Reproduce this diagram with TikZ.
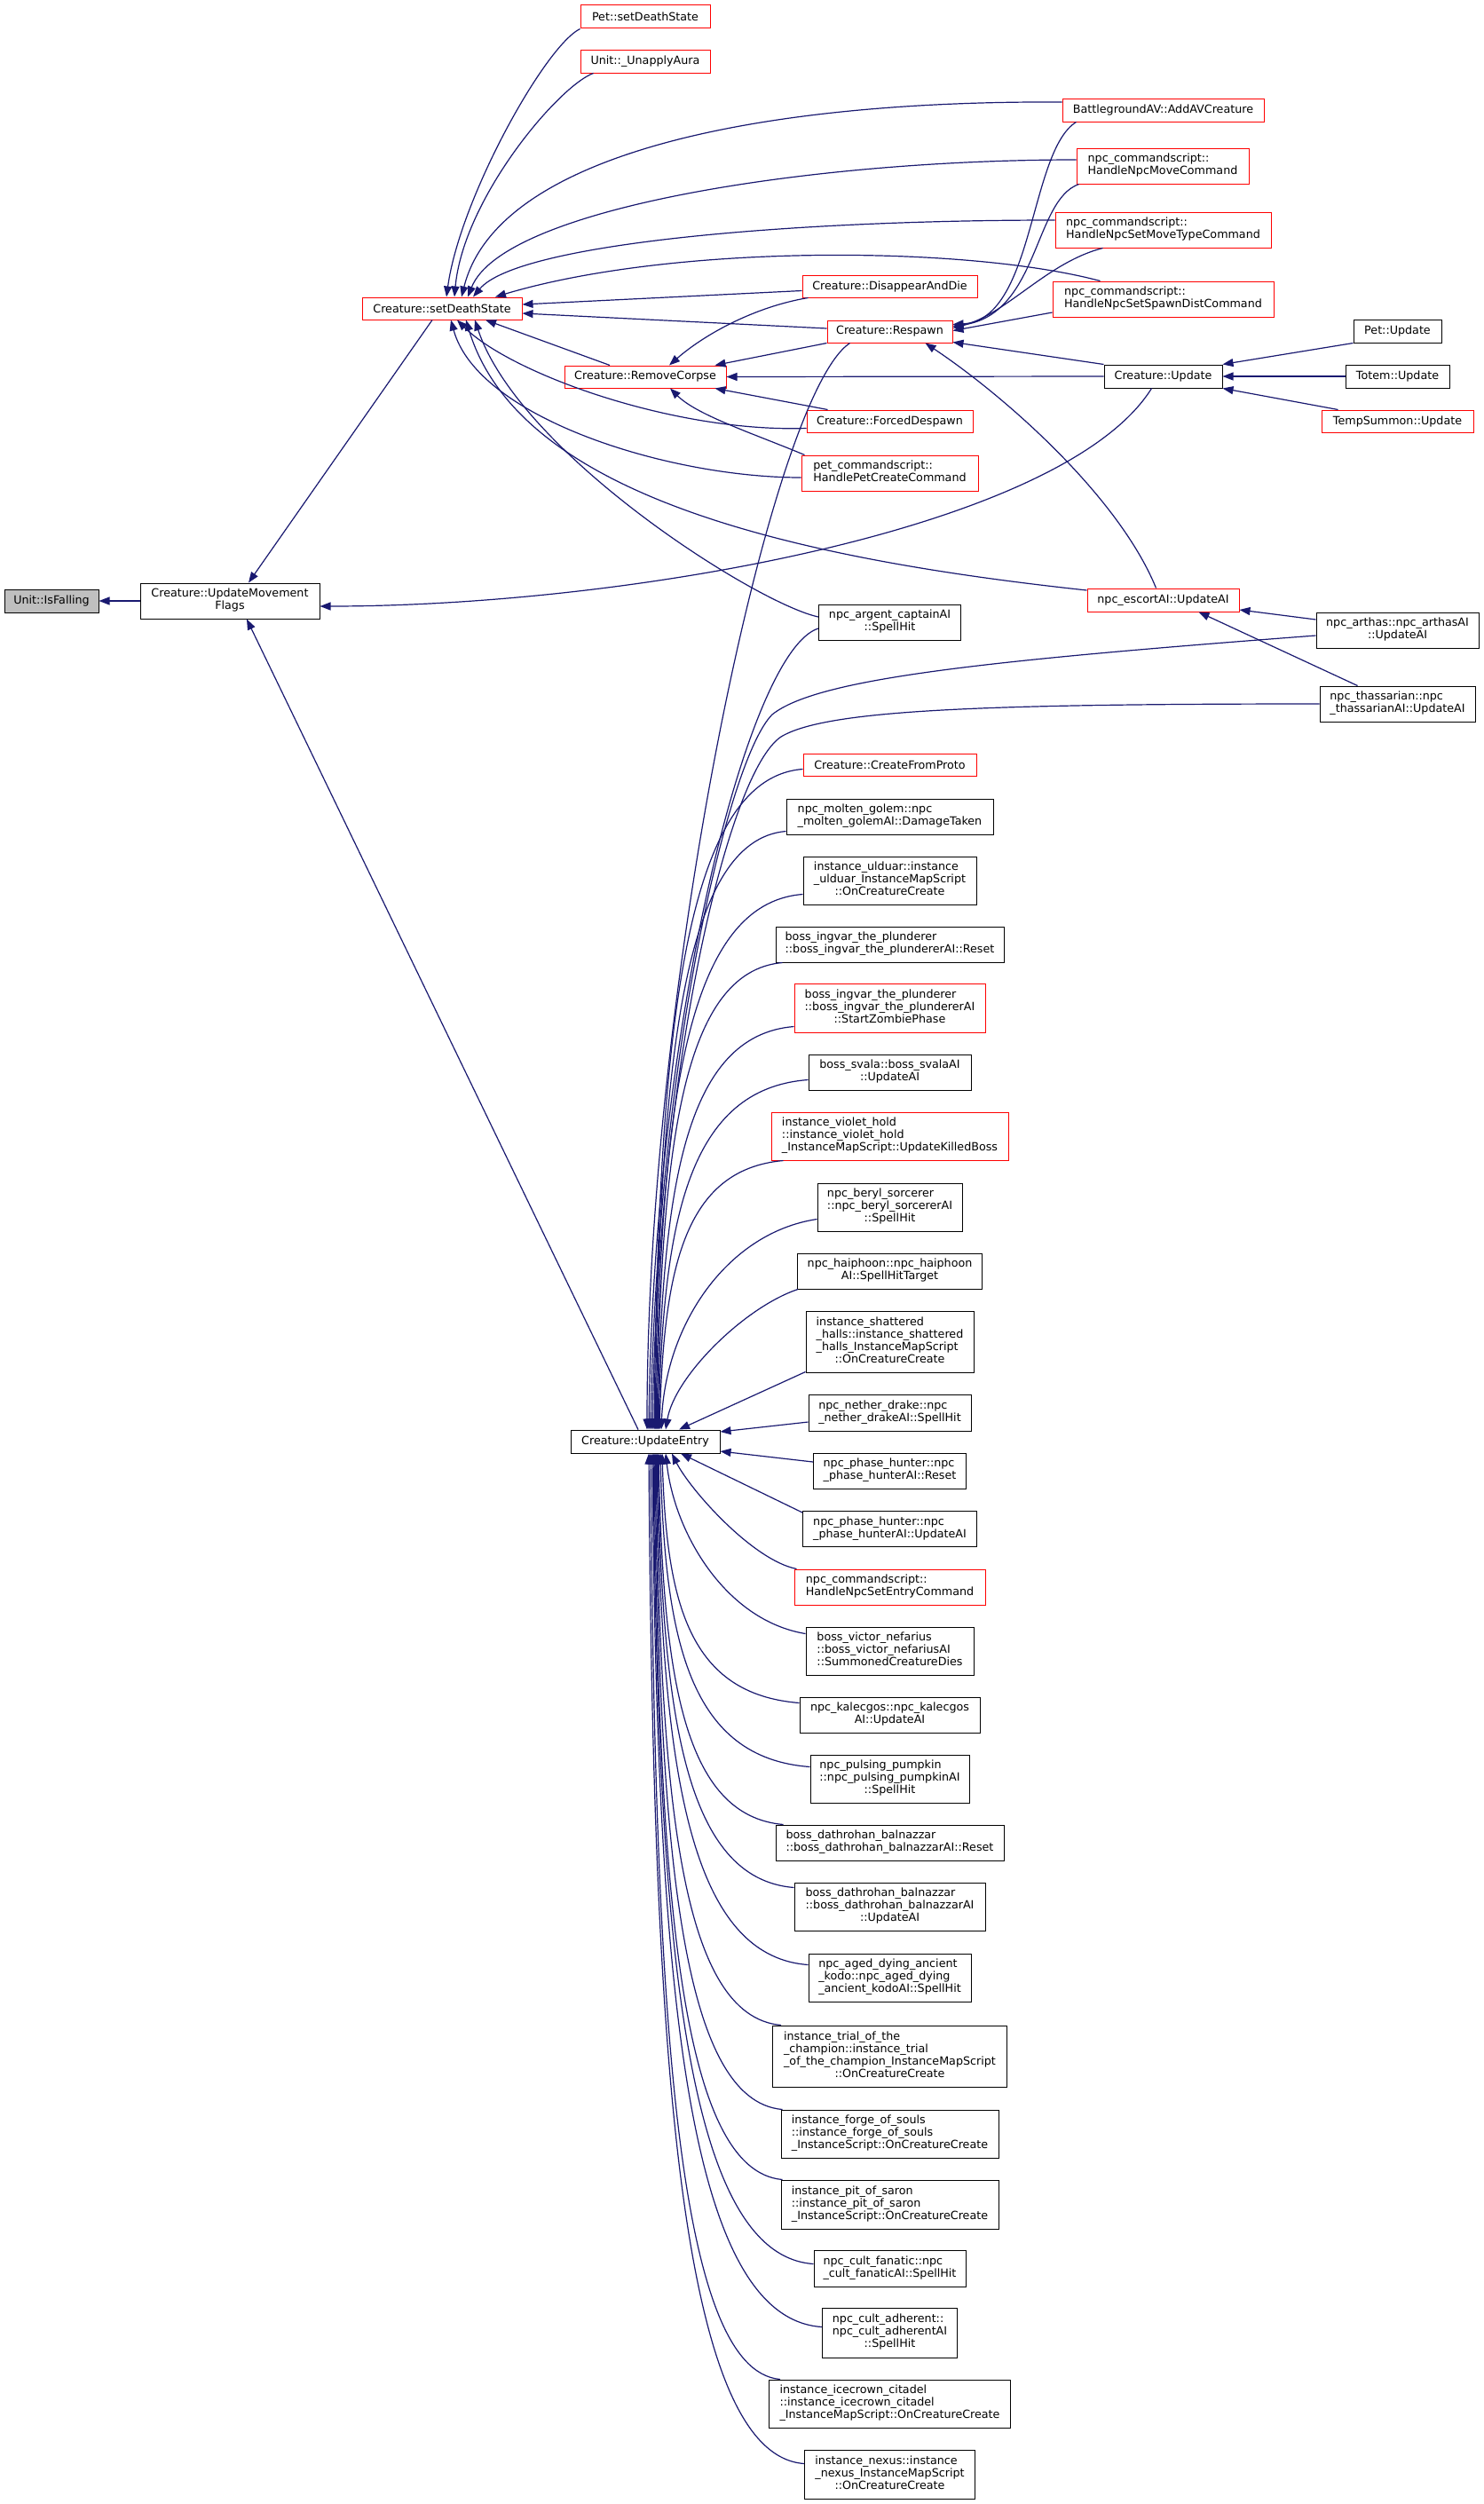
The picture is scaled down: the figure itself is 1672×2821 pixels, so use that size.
\documentclass[tikz,border=0pt]{standalone}
\usepackage{fontspec}
\setmainfont{DejaVu Sans}
\usetikzlibrary{arrows.meta,calc}
\definecolor{edgec}{RGB}{25,25,112}
\definecolor{redb}{RGB}{255,0,0}
\definecolor{greyf}{RGB}{191,191,191}
\newcommand{\ml}[1]{\begin{tabular}{@{}l@{}}#1\end{tabular}}
\newcommand{\lc}[1]{\multicolumn{1}{@{}c@{}}{#1}}
\begin{document}
\begin{tikzpicture}[x=1pt, y=-1pt,
  font=\fontsize{12.7}{14}\selectfont,
  bx/.style={draw=black, line width=1pt, fill=white, inner sep=0pt},
  rbx/.style={bx, draw=redb},
  conn/.style={draw=edgec, line width=1.2pt, -{Triangle[length=12pt,width=9pt]}}]
\fill[white] (0,0) rectangle (1672,2821);
\useasboundingbox (0,0) rectangle (1672,2821);

% ---------- nodes ----------
\node[bx, fill=greyf, minimum width=106pt, minimum height=26pt] (isf) at (58,677) {Unit::IsFalling};
\node[bx, minimum width=202pt, minimum height=40pt] (umf) at (259,677) {\ml{Creature::UpdateMovement\\ \lc{Flags}}};
\node[rbx, minimum width=180pt, minimum height=25pt] (sds) at (498,347.5) {Creature::setDeathState};
\node[rbx, minimum width=146pt, minimum height=26pt] (psds) at (727,19) {Pet::setDeathState};
\node[rbx, minimum width=146pt, minimum height=25pt] (ua) at (727,69.5) {Unit::\_UnapplyAura};
\node[rbx, minimum width=197pt, minimum height=25pt] (dad) at (1002.5,322.5) {Creature::DisappearAndDie};
\node[rbx, minimum width=141pt, minimum height=25pt] (rsp) at (1002.5,373.5) {Creature::Respawn};
\node[rbx, minimum width=182pt, minimum height=25pt] (rc) at (727,424.5) {Creature::RemoveCorpse};
\node[rbx, minimum width=187pt, minimum height=25pt] (fd) at (1002.5,474.5) {Creature::ForcedDespawn};
\node[rbx, minimum width=199pt, minimum height=40pt] (pc) at (1002.5,533) {\ml{pet\_commandscript::\\ \lc{HandlePetCreateCommand}}};
\node[rbx, minimum width=227pt, minimum height=26pt] (av) at (1310.5,124) {BattlegroundAV::AddAVCreature};
\node[rbx, minimum width=194pt, minimum height=40pt] (nmc) at (1310,187) {\ml{npc\_commandscript::\\ \lc{HandleNpcMoveCommand}}};
\node[rbx, minimum width=243pt, minimum height=40pt] (nmt) at (1310.5,259) {\ml{npc\_commandscript::\\ \lc{HandleNpcSetMoveTypeCommand}}};
\node[rbx, minimum width=249pt, minimum height=40pt] (nsd) at (1310.5,337) {\ml{npc\_commandscript::\\ \lc{HandleNpcSetSpawnDistCommand}}};
\node[bx, minimum width=133pt, minimum height=26pt] (cu) at (1310.5,424) {Creature::Update};
\node[bx, minimum width=99pt, minimum height=26pt] (pu) at (1574.5,373) {Pet::Update};
\node[bx, minimum width=117pt, minimum height=26pt] (tu) at (1574.5,424) {Totem::Update};
\node[rbx, minimum width=171pt, minimum height=25pt] (tsu) at (1574.5,474.5) {TempSummon::Update};
\node[rbx, minimum width=171pt, minimum height=26pt] (esc) at (1310.5,676) {npc\_escortAI::UpdateAI};
\node[bx, minimum width=160pt, minimum height=40pt] (arg) at (1002.5,701) {\ml{npc\_argent\_captainAI\\ \lc{::SpellHit}}};
\node[bx, minimum width=183pt, minimum height=40pt] (art) at (1574.5,710) {\ml{npc\_arthas::npc\_arthasAI\\ \lc{::UpdateAI}}};
\node[bx, minimum width=175pt, minimum height=40pt] (tha) at (1574.5,793) {\ml{npc\_thassarian::npc\\ \lc{\_thassarianAI::UpdateAI}}};

\node[rbx, minimum width=195pt, minimum height=25pt] (cfp) at (1002.5,861.5) {Creature::CreateFromProto};
\node[bx, minimum width=233pt, minimum height=40pt] (mg) at (1002.5,920) {\ml{npc\_molten\_golem::npc\\ \lc{\_molten\_golemAI::DamageTaken}}};
\node[bx, minimum width=195pt, minimum height=54pt] (uld) at (1002.5,992) {\ml{instance\_ulduar::instance\\ \_ulduar\_InstanceMapScript\\ \lc{::OnCreatureCreate}}};
\node[bx, minimum width=257pt, minimum height=40pt] (ir) at (1002.5,1064) {\ml{boss\_ingvar\_the\_plunderer\\ \lc{::boss\_ingvar\_the\_plundererAI::Reset}}};
\node[rbx, minimum width=215pt, minimum height=55pt] (iz) at (1002.5,1135.5) {\ml{boss\_ingvar\_the\_plunderer\\ ::boss\_ingvar\_the\_plundererAI\\ \lc{::StartZombiePhase}}};
\node[bx, minimum width=183pt, minimum height=40pt] (sv) at (1002.5,1208) {\ml{boss\_svala::boss\_svalaAI\\ \lc{::UpdateAI}}};
\node[rbx, minimum width=267pt, minimum height=54pt] (vh) at (1002.5,1280) {\ml{instance\_violet\_hold\\ ::instance\_violet\_hold\\ \lc{\_InstanceMapScript::UpdateKilledBoss}}};
\node[bx, minimum width=163pt, minimum height=54pt] (ber) at (1002.5,1360) {\ml{npc\_beryl\_sorcerer\\ ::npc\_beryl\_sorcererAI\\ \lc{::SpellHit}}};
\node[bx, minimum width=208pt, minimum height=40pt] (hai) at (1002.5,1432) {\ml{npc\_haiphoon::npc\_haiphoon\\ \lc{AI::SpellHitTarget}}};
\node[bx, minimum width=189pt, minimum height=69pt] (sh) at (1002.5,1511.5) {\ml{instance\_shattered\\ \_halls::instance\_shattered\\ \_halls\_InstanceMapScript\\ \lc{::OnCreatureCreate}}};
\node[bx, minimum width=183pt, minimum height=41pt] (nd) at (1002.5,1591.5) {\ml{npc\_nether\_drake::npc\\ \lc{\_nether\_drakeAI::SpellHit}}};
\node[bx, minimum width=172pt, minimum height=40pt] (phr) at (1002.5,1657) {\ml{npc\_phase\_hunter::npc\\ \lc{\_phase\_hunterAI::Reset}}};
\node[bx, minimum width=196pt, minimum height=40pt] (phu) at (1002.5,1722.5) {\ml{npc\_phase\_hunter::npc\\ \lc{\_phase\_hunterAI::UpdateAI}}};
\node[rbx, minimum width=215pt, minimum height=40pt] (nse) at (1002.5,1788) {\ml{npc\_commandscript::\\ \lc{HandleNpcSetEntryCommand}}};
\node[bx, minimum width=189pt, minimum height=54pt] (vn) at (1002.5,1860) {\ml{boss\_victor\_nefarius\\ ::boss\_victor\_nefariusAI\\ \lc{::SummonedCreatureDies}}};
\node[bx, minimum width=203pt, minimum height=40pt] (kal) at (1002.5,1932) {\ml{npc\_kalecgos::npc\_kalecgos\\ \lc{AI::UpdateAI}}};
\node[bx, minimum width=179pt, minimum height=54pt] (pp) at (1002.5,2004) {\ml{npc\_pulsing\_pumpkin\\ ::npc\_pulsing\_pumpkinAI\\ \lc{::SpellHit}}};
\node[bx, minimum width=257pt, minimum height=40pt] (dr) at (1002.5,2076) {\ml{boss\_dathrohan\_balnazzar\\ \lc{::boss\_dathrohan\_balnazzarAI::Reset}}};
\node[bx, minimum width=215pt, minimum height=54pt] (du) at (1002.5,2148) {\ml{boss\_dathrohan\_balnazzar\\ ::boss\_dathrohan\_balnazzarAI\\ \lc{::UpdateAI}}};
\node[bx, minimum width=183pt, minimum height=54pt] (ad) at (1002.5,2228) {\ml{npc\_aged\_dying\_ancient\\ \_kodo::npc\_aged\_dying\\ \lc{\_ancient\_kodoAI::SpellHit}}};
\node[bx, minimum width=264pt, minimum height=69pt] (tr) at (1002.5,2316.5) {\ml{instance\_trial\_of\_the\\ \_champion::instance\_trial\\ \_of\_the\_champion\_InstanceMapScript\\ \lc{::OnCreatureCreate}}};
\node[bx, minimum width=245pt, minimum height=54pt] (fs) at (1002.5,2404) {\ml{instance\_forge\_of\_souls\\ ::instance\_forge\_of\_souls\\ \lc{\_InstanceScript::OnCreatureCreate}}};
\node[bx, minimum width=245pt, minimum height=55pt] (ps) at (1002.5,2483.5) {\ml{instance\_pit\_of\_saron\\ ::instance\_pit\_of\_saron\\ \lc{\_InstanceScript::OnCreatureCreate}}};
\node[bx, minimum width=171pt, minimum height=41pt] (cf) at (1002.5,2555.5) {\ml{npc\_cult\_fanatic::npc\\ \lc{\_cult\_fanaticAI::SpellHit}}};
\node[bx, minimum width=152pt, minimum height=56pt] (ca) at (1002.5,2628) {\ml{npc\_cult\_adherent::\\ npc\_cult\_adherentAI\\ \lc{::SpellHit}}};
\node[bx, minimum width=272pt, minimum height=54pt] (ic) at (1002.5,2708) {\ml{instance\_icecrown\_citadel\\ ::instance\_icecrown\_citadel\\ \lc{\_InstanceMapScript::OnCreatureCreate}}};
\node[bx, minimum width=192pt, minimum height=55pt] (nx) at (1002.5,2787.5) {\ml{instance\_nexus::instance\\ \_nexus\_InstanceMapScript\\ \lc{::OnCreatureCreate}}};
\node[bx, minimum width=168pt, minimum height=26pt] (ue) at (727,1624) {Creature::UpdateEntry};

% ---------- connectors ----------
\draw[conn] (umf.west) -- (isf.east);
\draw[conn] ([xshift=-11pt]sds.south) -- ([xshift=21pt]umf.north);
\draw[conn] ([xshift=-8pt]ue.north) -- ([xshift=19pt]umf.south);
\draw[conn] ([xshift=-13pt]cu.south) .. controls +(-100,160) and +(340,0) .. ([yshift=-6pt]umf.east);

% into setDeathState
\draw[conn] (psds.south west) .. controls +(-40,20) and +(15,-110) .. ([xshift=5pt]sds.north);
\draw[conn] ([xshift=15pt]ua.south west) .. controls +(-40,15) and +(10,-110) .. ([xshift=14pt]sds.north);
\draw[conn] ([yshift=9pt]av.west) .. controls +(-347,-2) and +(40,-160) .. ([xshift=22pt]sds.north);
\draw[conn] ([yshift=7pt]nmc.west) .. controls +(-300,0) and +(40,-100) .. ([xshift=29pt]sds.north);
\draw[conn] ([yshift=11pt]nmt.west) .. controls +(-300,0) and +(50,-60) .. ([xshift=35pt]sds.north);
\draw[conn] ([xshift=54pt]nsd.north west) .. controls +(-150,-40) and +(200,-60) .. ([xshift=60pt]sds.north);
\draw[conn] ([yshift=-5pt]dad.west) -- ([yshift=4.5pt]sds.east);
\draw[conn] ([yshift=3.5pt]rsp.west) -- ([yshift=-5.5pt]sds.east);
\draw[conn] ([xshift=-40pt]rc.north) -- ([xshift=49pt]sds.south);
\draw[conn] ([yshift=-8pt]fd.west) .. controls +(-150,5) and +(60,60) .. ([xshift=17pt]sds.south);
\draw[conn] ([yshift=-5pt]pc.west) .. controls +(-150,0) and +(30,110) .. ([xshift=10pt]sds.south);
\draw[conn] ([yshift=11pt]esc.west) .. controls +(-325,-35) and +(60,200) .. ([xshift=27pt]sds.south);
\draw[conn] ([yshift=6pt]arg.west) .. controls +(-70,-15) and +(50,150) .. ([xshift=37pt]sds.south);

% into RemoveCorpse
\draw[conn] (rsp.south west) -- ([xshift=-13pt]rc.north east);
\draw[conn] ([xshift=7pt]dad.south west) .. controls +(-60,10) and +(40,-35) .. ([xshift=27pt]rc.north);
\draw[conn] (cu.west) -- (rc.east);
\draw[conn] ([xshift=24pt]fd.north west) -- ([xshift=-13pt]rc.south east);
\draw[conn] ([xshift=4pt]pc.north west) .. controls +(-60,-25) and +(30,30) .. ([xshift=28pt]rc.south);

% into Respawn
\draw[conn] ([xshift=16pt]av.south west) .. controls +(-53,33) and +(92,-5) .. ([yshift=8pt]rsp.east);
\draw[conn] ([xshift=3pt]nmc.south west) .. controls +(-51,18) and +(97,-13) .. ([yshift=6pt]rsp.east);
\draw[conn] ([xshift=54pt]nmt.south west) .. controls +(-63,16) and +(60,-15) .. ([yshift=4pt]rsp.east);
\draw[conn] ([yshift=-15pt]nsd.west) -- ([yshift=1pt]rsp.east);
\draw[conn] (cu.north west) -- ([yshift=1pt]rsp.south east);
\draw[conn] ([xshift=-8pt]esc.north) .. controls +(-42,-103) and +(90,60) .. ([xshift=40pt]rsp.south);

% into Creature::Update
\draw[conn] (pu.south west) -- (cu.north east);
\draw[conn] (tu.west) -- (cu.east);
\draw[conn] ([xshift=19pt]tsu.north west) -- (cu.south east);

% into escortAI
\draw[conn] ([yshift=12pt]art.west) -- ([yshift=-11pt]esc.east);
\draw[conn] ([xshift=-45pt]tha.north) -- ([xshift=40pt]esc.south);

% into UpdateEntry (from above)
\draw[conn] ([xshift=-45pt]rsp.south) .. controls +(-90,60) and +(0,-500) .. ([xshift=2pt]ue.north);
\draw[conn] ([yshift=-7pt]arg.west) .. controls +(-80,25) and +(5,-450) .. ([xshift=4pt]ue.north);
\draw[conn] ([yshift=-6pt]art.west) .. controls (1100,745) and (920,765) .. (870,805) .. controls (820,855) and (740,1200) .. ([xshift=6pt]ue.north);
\draw[conn] (tha.west) .. controls (1100,793) and (930,800) .. (880,830) .. controls (820,870) and (742,1200) .. ([xshift=8pt]ue.north);
\draw[conn] ([yshift=8pt]cfp.south west) .. controls +(-134,10) and +(5,-446) .. ([xshift=10pt]ue.north);
\draw[conn] ([yshift=4pt]mg.south west) .. controls +(-118,10) and +(5,-404) .. ([xshift=11pt]ue.north);
\draw[conn] ([yshift=12pt]uld.south west) .. controls +(-133,10) and +(5,-361) .. ([xshift=12pt]ue.north);
\draw[conn] ([xshift=8pt]ir.south west) .. controls +(-114,10) and +(5,-315) .. ([xshift=13pt]ue.north);
\draw[conn] ([yshift=7pt]iz.south west) .. controls +(-123,10) and +(5,-272) .. ([xshift=14pt]ue.north);
\draw[conn] ([yshift=12pt]sv.south west) .. controls +(-135,10) and +(5,-236) .. ([xshift=15pt]ue.north);
\draw[conn] ([xshift=14pt]vh.south west) .. controls +(-112,10) and +(5,-181) .. ([xshift=16pt]ue.north);
\draw[conn] ([yshift=14pt]ber.south west) .. controls +(-100,15) and +(5,-120) .. ([xshift=18pt]ue.north);
\draw[conn] ([xshift=1pt]hai.south west) .. controls +(-60,20) and +(10,-60) .. ([xshift=23pt]ue.north);
\draw[conn] ([yshift=1pt]sh.south west) -- ([xshift=38pt]ue.north);
\draw[conn] ([yshift=-10.5pt]nd.west) -- ([yshift=11pt]ue.east);
\draw[conn] ([yshift=10pt]phr.west) -- ([yshift=-11pt]ue.east);

% into UpdateEntry (from below)
\draw[conn] ([yshift=-2pt]phu.north west) -- ([xshift=40pt]ue.south);
\draw[conn] ([xshift=3pt]nse.north west) .. controls +(-50,-10) and +(20,40) .. ([xshift=30pt]ue.south);
\draw[conn] ([yshift=-8pt]vn.north west) .. controls +(-90,-15) and +(10,90) .. ([xshift=23pt]ue.south);
\draw[conn] ([yshift=-7pt]kal.north west) .. controls +(-124,-10) and +(5,169) .. ([xshift=19pt]ue.south);
\draw[conn] ([yshift=-14pt]pp.north west) .. controls +(-135,-10) and +(5,212) .. ([xshift=17pt]ue.south);
\draw[conn] ([xshift=9pt]dr.north west) .. controls +(-113,-10) and +(5,251) .. ([xshift=15pt]ue.south);
\draw[conn] ([yshift=-6pt]du.north west) .. controls +(-123,-10) and +(5,294) .. ([xshift=14pt]ue.south);
\draw[conn] ([yshift=-13pt]ad.north west) .. controls +(-137,-10) and +(5,346) .. ([xshift=13pt]ue.south);
\draw[conn] ([xshift=10pt]tr.north west) .. controls +(-114,-10) and +(5,387) .. ([xshift=12pt]ue.south);
\draw[conn] ([xshift=2pt]fs.north west) .. controls +(-115,-10) and +(5,444) .. ([xshift=11pt]ue.south);
\draw[conn] ([xshift=2pt]ps.north west) .. controls +(-116,-10) and +(5,491) .. ([xshift=10pt]ue.south);
\draw[conn] ([yshift=-16pt]cf.north west) .. controls +(-145,-10) and +(5,548) .. ([xshift=9pt]ue.south);
\draw[conn] ([yshift=-22pt]ca.north west) .. controls +(-154,-10) and +(5,591) .. ([xshift=8pt]ue.south);
\draw[conn] ([xshift=13pt]ic.north west) .. controls +(-118,-10) and +(5,626) .. ([xshift=6pt]ue.south);
\draw[conn] ([yshift=-16pt]nx.north west) .. controls +(-140,-10) and +(5,683) .. ([xshift=4pt]ue.south);
\end{tikzpicture}
\end{document}
